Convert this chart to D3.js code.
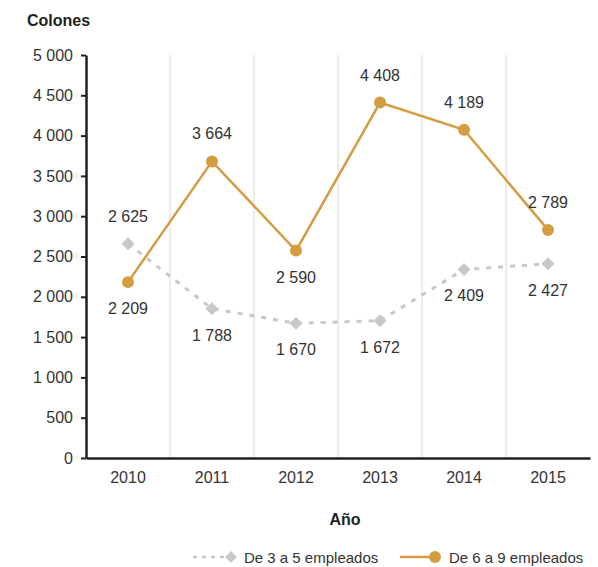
<!DOCTYPE html>
<html lang="es">
<head>
    <meta charset="UTF-8">
    <title>Colones por año</title>
    <script src="https://d3js.org/d3.v7.min.js"></script>
    <style>
        body { margin: 0; background: #fff; }
        svg text { font-family: "Liberation Sans", Arial, sans-serif; fill: #333; }
    </style>
</head>
<body>
<div id="chart"></div>
<script>
    // Data
    const years = ["2010", "2011", "2012", "2013", "2014", "2015"];
    const yTicks = [0, 500, 1000, 1500, 2000, 2500, 3000, 3500, 4000, 4500, 5000];

    // De 3 a 5 empleados (position, printed label)
    const smallValues = [2657, 1853, 1671, 1704, 2339, 2410];
    const smallLabels = [2625, 1788, 1670, 1672, 2409, 2427];
    const smallAbove = [true, false, false, false, false, false];

    // De 6 a 9 empleados
    const mediumValues = [2182, 3680, 2574, 4410, 4072, 2830];
    const mediumLabels = [2209, 3664, 2590, 4408, 4189, 2789];
    const mediumAbove = [false, true, false, true, true, true];

    const gold = "#d49d42";
    const grey = "#c8c8c8";
    const dark = "#231f20";

    const width = 598, height = 567;
    const margin = { top: 55, right: 8, bottom: 109, left: 86 };

    const locale = d3.formatLocale({ decimal: ",", thousands: " ", grouping: [3], currency: ["", ""] });
    const fmt = locale.format(",d");

    const svg = d3.select("#chart").append("svg")
        .attr("width", width)
        .attr("height", height);

    const x = d3.scaleBand()
        .domain(years)
        .range([margin.left, width - margin.right]);

    const y = d3.scaleLinear()
        .domain([0, 5000])
        .range([height - margin.bottom, margin.top]);

    // vertical gridlines between years
    svg.append("g")
        .selectAll("line")
        .data(years.slice(1))
        .enter()
        .append("line")
        .attr("x1", d => x(d))
        .attr("x2", d => x(d))
        .attr("y1", y(5000))
        .attr("y2", y(0))
        .attr("stroke", "#d9d9d9")
        .attr("stroke-width", 1);

    // y axis
    const yAxis = svg.append("g")
        .attr("transform", `translate(${margin.left},0)`)
        .call(d3.axisLeft(y).tickValues(yTicks).tickFormat(fmt).tickSize(5).tickSizeOuter(0).tickPadding(8));
    yAxis.select(".domain").attr("stroke", dark).attr("stroke-width", 2.5);
    yAxis.selectAll(".tick line").attr("stroke", dark).attr("stroke-width", 2);
    yAxis.selectAll("text").attr("font-size", 16).attr("fill", "#333");

    // x axis
    const xAxis = svg.append("g")
        .attr("transform", `translate(0,${y(0)})`)
        .call(d3.axisBottom(x).tickSize(0).tickPadding(14));
    xAxis.select(".domain").attr("stroke", dark).attr("stroke-width", 2.5);
    xAxis.selectAll("text").attr("font-size", 16).attr("fill", "#333");

    // titles
    svg.append("text")
        .attr("x", 27)
        .attr("y", 26)
        .attr("font-size", 16)
        .attr("font-weight", "bold")
        .style("fill", "#231f20")
        .text("Colones");

    svg.append("text")
        .attr("x", 345)
        .attr("y", 525)
        .attr("text-anchor", "middle")
        .attr("font-size", 16)
        .attr("font-weight", "bold")
        .style("fill", "#231f20")
        .text("Año");

    const cx = d => x(d) + x.bandwidth() / 2;

    // grey dashed series
    const smallData = years.map((d, i) => ({ year: d, value: smallValues[i], label: smallLabels[i], above: smallAbove[i] }));
    const mediumData = years.map((d, i) => ({ year: d, value: mediumValues[i], label: mediumLabels[i], above: mediumAbove[i] }));

    const line = d3.line()
        .x(d => cx(d.year))
        .y(d => y(d.value));

    svg.append("path")
        .datum(smallData)
        .attr("fill", "none")
        .attr("stroke", grey)
        .attr("stroke-width", 3)
        .attr("stroke-dasharray", "5,7")
        .attr("d", line);

    svg.append("g")
        .selectAll("path")
        .data(smallData)
        .enter()
        .append("path")
        .attr("d", d3.symbol().type(d3.symbolSquare).size(85))
        .attr("transform", d => `translate(${cx(d.year)},${y(d.value)}) rotate(45)`)
        .attr("fill", grey);

    // gold series
    svg.append("path")
        .datum(mediumData)
        .attr("fill", "none")
        .attr("stroke", gold)
        .attr("stroke-width", 2.5)
        .attr("d", line);

    svg.append("g")
        .selectAll("circle")
        .data(mediumData)
        .enter()
        .append("circle")
        .attr("cx", d => cx(d.year))
        .attr("cy", d => y(d.value))
        .attr("r", 6)
        .attr("fill", gold);

    // value labels
    const labels = svg.append("g")
        .attr("font-size", 16)
        .attr("text-anchor", "middle");

    labels.selectAll(".lbl")
        .data(smallData.concat(mediumData))
        .enter()
        .append("text")
        .attr("class", "lbl")
        .attr("x", d => cx(d.year))
        .attr("y", d => y(d.value) + (d.above ? -22 : 32))
        .text(d => fmt(d.label));

    // legend
    const legend = svg.append("g").attr("transform", "translate(0,557)");

    legend.append("line")
        .attr("x1", 193).attr("x2", 226)
        .attr("stroke", grey)
        .attr("stroke-width", 2.5)
        .attr("stroke-dasharray", "4,5");
    legend.append("path")
        .attr("d", d3.symbol().type(d3.symbolSquare).size(70))
        .attr("transform", "translate(231,0) rotate(45)")
        .attr("fill", grey);
    legend.append("text")
        .attr("x", 244).attr("y", 5.5)
        .attr("font-size", 15)
        .text("De 3 a 5 empleados");

    legend.append("line")
        .attr("x1", 400).attr("x2", 434)
        .attr("stroke", gold)
        .attr("stroke-width", 2.5);
    legend.append("circle")
        .attr("cx", 435).attr("r", 6)
        .attr("fill", gold);
    legend.append("text")
        .attr("x", 449).attr("y", 5.5)
        .attr("font-size", 15)
        .text("De 6 a 9 empleados");
</script>
</body>
</html>
